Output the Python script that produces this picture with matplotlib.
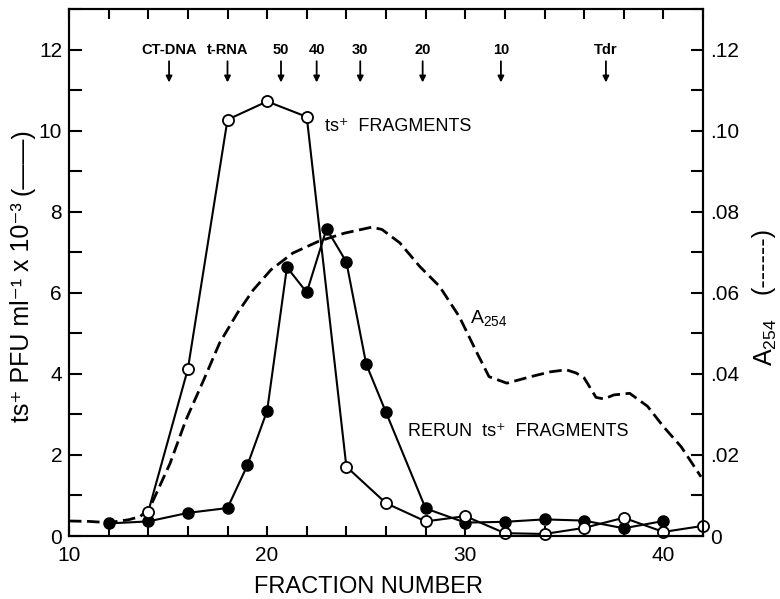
import numpy as np
import matplotlib
matplotlib.use('Agg')
import matplotlib.pyplot as plt

plt.rcParams['font.family'] = ['Liberation Sans', 'DejaVu Sans']
plt.rcParams['mathtext.default'] = 'regular'

#### Daten
# ts+ fragments (offene Kreise)
frac_open = [14, 16, 18, 20, 22, 24, 26, 28, 30, 32, 34, 36, 38, 40, 42]
pfu_open = [0.6, 4.12, 10.27, 10.72, 10.34, 1.71, 0.81, 0.36, 0.49, 0.07, 0.05, 0.2, 0.45, 0.1, 0.25]

# rerun ts+ fragments (gefuellte Kreise)
frac_rerun = [12, 14, 16, 18, 19, 20, 21, 22, 23, 24, 25, 26, 28, 30, 32, 34, 36, 38, 40]
pfu_rerun = [0.31, 0.36, 0.57, 0.69, 1.74, 3.09, 6.63, 6.01, 7.58, 6.76, 4.24, 3.05, 0.68, 0.33, 0.35, 0.41, 0.38, 0.19, 0.37]

# A254 (gestrichelt, rechte Achse)
frac_a254 = [10.0, 11.0, 12.0, 13.0, 13.6, 14.1, 15.1, 15.9, 16.8, 17.6, 18.5, 19.3, 20.2, 21.3,
             22.6, 23.9, 25.3, 25.8, 26.7, 27.7, 28.7, 29.7, 30.6, 31.2, 32.1, 33.3, 34.3,
             35.1, 35.6, 36.0, 36.6, 37.0, 37.5, 38.3, 39.2, 40.0, 40.9, 41.9]
a254 = [0.0037, 0.0036, 0.0033, 0.0040, 0.0048, 0.0072, 0.0179, 0.0286, 0.0385, 0.0476, 0.0550, 0.0607,
        0.0657, 0.0698, 0.0727, 0.0747, 0.0762, 0.0756, 0.0723, 0.0665, 0.0616, 0.0541, 0.0451,
        0.0393, 0.0377, 0.0393, 0.0405, 0.0410, 0.0402, 0.0390, 0.0342, 0.0338, 0.0348, 0.0352,
        0.0320, 0.0270, 0.0220, 0.0146]

# Marker oben
marker_labels = ['CT-DNA', 't-RNA', '50', '40', '30', '20', '10', 'Tdr']
marker_fracs = [15.05, 18.0, 20.7, 22.5, 24.7, 27.85, 31.8, 37.1]

x_ticks = list(range(10, 43, 2))
x_ticklabels = [str(t) if t % 10 == 0 else '' for t in x_ticks]
y_ticks = list(range(0, 14))
y_ticklabels = [str(t) if t % 2 == 0 else '' for t in y_ticks]
y2_ticks = [i / 100 for i in range(0, 14)]
y2_ticklabels = ['0', '', '.02', '', '.04', '', '.06', '', '.08', '', '.10', '', '.12', '']

#### Plot
fig = plt.figure(figsize=(7.8, 5.99), dpi=100)
ax = fig.add_axes([69 / 780, 63 / 599, 634 / 780, 527 / 599])
ax2 = ax.twinx()
ax.set_zorder(ax2.get_zorder() + 1)
ax.patch.set_visible(False)

ax2.plot(frac_a254, a254, color='black', lw=2, dashes=(4.5, 2), clip_on=False)

ax.plot(frac_rerun, pfu_rerun, color='black', lw=1.5, marker='o', ms=8,
        mfc='black', mec='black', clip_on=False)
ax.plot(frac_open, pfu_open, color='black', lw=1.5, marker='o', ms=8,
        mfc='white', mec='black', mew=1.3, clip_on=False)

ax.set_xlim(10, 42)
ax.set_ylim(0, 13)
ax2.set_ylim(0, 0.13)

ax.set_xticks(x_ticks)
ax.set_xticklabels(x_ticklabels)
ax.set_yticks(y_ticks)
ax.set_yticklabels(y_ticklabels)
ax2.set_yticks(y2_ticks)
ax2.set_yticklabels(y2_ticklabels)

ax.tick_params(axis='x', direction='in', top=True, length=7, width=1.5, labelsize=15, pad=7)
ax.tick_params(axis='y', direction='in', right=False, length=9, width=1.5, labelsize=15, pad=5)
ax2.tick_params(axis='y', direction='in', length=9, width=1.5, labelsize=15, pad=5)
for a in (ax, ax2):
    for s in a.spines.values():
        s.set_linewidth(1.5)

# Pfeile mit Beschriftung
for lab, fx in zip(marker_labels, marker_fracs):
    ax.annotate('', xy=(fx, 11.12), xytext=(fx, 11.78),
                arrowprops=dict(arrowstyle='-|>', color='black', lw=1.3, mutation_scale=9))
    ax.text(fx, 12.0, lab, ha='center', va='center', fontsize=10.5, fontweight='bold')

ax.text(22.92, 10.1, 'ts⁺  FRAGMENTS', ha='left', va='center', fontsize=13)
ax.text(27.1, 2.59, 'RERUN  ts⁺  FRAGMENTS', ha='left', va='center', fontsize=13)
ax.text(30.24, 5.26, 'A$_{254}$', ha='left', va='baseline', fontsize=14)

# Achsenbeschriftungen
fig.text(368 / 780, 1 - 587 / 599, 'FRACTION NUMBER', ha='center', va='center', fontsize=17)
fig.text(22 / 780, 1 - 312 / 599, 'ts⁺ PFU ml⁻¹ x 10⁻³', rotation=90,
         ha='center', va='center', fontsize=18)
fig.text(22 / 780, 1 - 162 / 599, '(——)', rotation=90, ha='center', va='center', fontsize=18)
fig.text(766 / 780, 1 - 342 / 599, 'A$_{254}$', rotation=90, ha='center', va='center', fontsize=18)
fig.text(763 / 780, 1 - 260 / 599, '(------)', rotation=90, ha='center', va='center', fontsize=18)

plt.savefig('out.png', dpi=100)
